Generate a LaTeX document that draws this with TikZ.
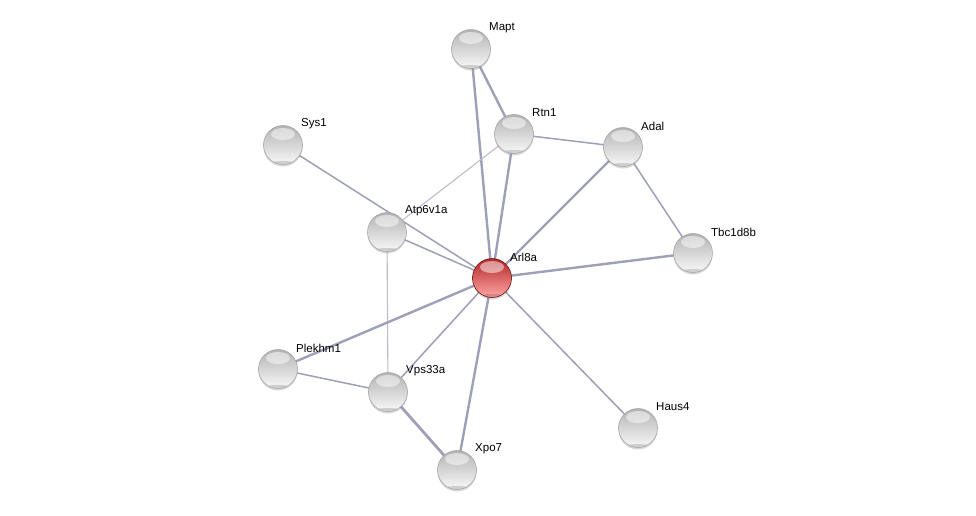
\documentclass[tikz,border=0pt]{standalone}
\usepackage{fontspec}
\setmainfont{Liberation Sans}
\usetikzlibrary{shadows}
\begin{document}
\begin{tikzpicture}[x=1pt,y=-1pt,
  edge/.style={draw=edgecol,line width=1.5pt},
  thick edge/.style={draw=edgecol,line width=2.4pt},
  thin edge/.style={draw=edgecol!70!white,line width=1.1pt},
  prot/.style={circle,minimum size=39pt,inner sep=0pt,
     top color=gray!60,bottom color=gray!5,draw=gray!75,line width=0.5pt,
     drop shadow={shadow xshift=0pt,shadow yshift=-2pt,opacity=0.3},
     path picture={
       \fill[white,opacity=0.5] ([yshift=-8.5pt]path picture bounding box.north) ellipse (12pt and 6pt);
       \fill[black,opacity=0.15] ([yshift=-0.5pt]path picture bounding box.south) ellipse (16pt and 4pt);}},
  hub/.style={prot,top color=red!65!black!85!white,bottom color=red!35!white,draw=red!40!black},
  lab/.style={anchor=west,font=\fontsize{11.5}{13}\selectfont,inner sep=0pt}]
\definecolor{edgecol}{RGB}{158,160,184}
\fill[white] (0,0) rectangle (976,515);
\useasboundingbox (0,0) rectangle (976,515);
% node positions
\coordinate (pMapt) at (471,49);
\coordinate (pRtn1) at (514,134);
\coordinate (pSys1) at (283,145);
\coordinate (pAdal) at (623,147);
\coordinate (pAtp) at (387,232);
\coordinate (pTbc) at (693,253);
\coordinate (pArl) at (492,278);
\coordinate (pPlek) at (278,369);
\coordinate (pVps) at (388,392);
\coordinate (pHaus) at (638,428);
\coordinate (pXpo) at (457,470);
% edges
\draw[thick edge] (pMapt) -- (pRtn1);
\draw[thick edge] (pMapt) -- (pArl);
\draw[thick edge] (pRtn1) -- (pArl);
\draw[edge] (pRtn1) -- (pAdal);
\draw[thin edge] (pRtn1) -- (pAtp);
\draw[thick edge] (pAdal) -- (pArl);
\draw[edge] (pAdal) -- (pTbc);
\draw[edge] (pSys1) -- (pArl);
\draw[edge] (pAtp) -- (pArl);
\draw[thin edge] (pAtp) -- (pVps);
\draw[thick edge] (pTbc) -- (pArl);
\draw[thick edge] (pArl) -- (pPlek);
\draw[edge] (pArl) -- (pVps);
\draw[thick edge] (pArl) -- (pXpo);
\draw[edge] (pArl) -- (pHaus);
\draw[edge] (pPlek) -- (pVps);
\draw[thick edge,line width=2.8pt] (pVps) -- (pXpo);
% nodes
\node[prot] (Mapt) at (pMapt) {};
\node[prot] (Rtn1) at (pRtn1) {};
\node[prot] (Sys1) at (pSys1) {};
\node[prot] (Adal) at (pAdal) {};
\node[prot] (Atp6v1a) at (pAtp) {};
\node[prot] (Tbc1d8b) at (pTbc) {};
\node[hub] (Arl8a) at (pArl) {};
\node[prot] (Plekhm1) at (pPlek) {};
\node[prot] (Vps33a) at (pVps) {};
\node[prot] (Haus4) at (pHaus) {};
\node[prot] (Xpo7) at (pXpo) {};
% labels
\node[lab] (lMapt) at ([shift={(18,-21)}]pMapt) {Mapt};
\node[lab] (lRtn1) at ([shift={(18,-21)}]pRtn1) {Rtn1};
\node[lab] (lSys1) at ([shift={(18,-21)}]pSys1) {Sys1};
\node[lab] (lAdal) at ([shift={(18,-21)}]pAdal) {Adal};
\node[lab] (lAtp) at ([shift={(18,-21)}]pAtp) {Atp6v1a};
\node[lab] (lTbc) at ([shift={(18,-21)}]pTbc) {Tbc1d8b};
\node[lab] (lArl) at ([shift={(18,-21)}]pArl) {Arl8a};
\node[lab] (lPlek) at ([shift={(18,-21)}]pPlek) {Plekhm1};
\node[lab] (lVps) at ([shift={(18,-21)}]pVps) {Vps33a};
\node[lab] (lHaus) at ([shift={(18,-21)}]pHaus) {Haus4};
\node[lab] (lXpo) at ([shift={(18,-21)}]pXpo) {Xpo7};
\end{tikzpicture}
\end{document}
